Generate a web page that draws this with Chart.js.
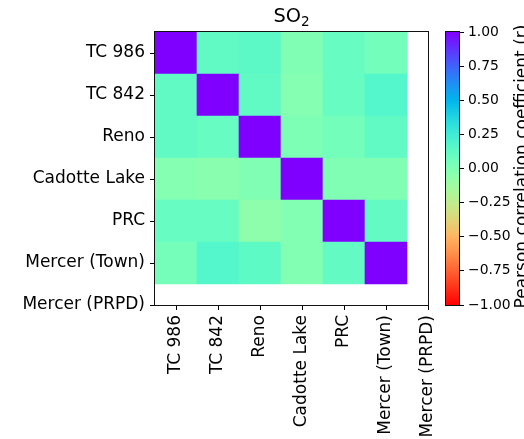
<!DOCTYPE html>
<html>
<head>
<meta charset="utf-8">
<script src="https://cdn.jsdelivr.net/npm/chart.js@4.4.1/dist/chart.umd.min.js"></script>
<style>
  html, body { margin: 0; padding: 0; background: #fff; }
  #wrap { position: relative; width: 524px; height: 439px; overflow: hidden; }
  #heat { position: absolute; left: 0; top: 0; }
  #cbar { position: absolute; left: 430px; top: 0; }
</style>
</head>
<body>
<div id="wrap">
  <canvas id="heat" width="460" height="439"></canvas>
  <canvas id="cbar" width="94" height="439"></canvas>
</div>
<script>
// Estaciones (mismo orden en ambos ejes)
const stations = ['TC 986', 'TC 842', 'Reno', 'Cadotte Lake', 'PRC', 'Mercer (Town)', 'Mercer (PRPD)']

// Coeficientes de correlación por fila (null = sin datos)
const rowTC986   = [1.00, 0.12, 0.14, 0.00, 0.10, 0.05, null]
const rowTC842   = [0.12, 1.00, 0.12, -0.02, 0.10, 0.17, null]
const rowReno    = [0.12, 0.10, 1.00, 0.01, 0.05, 0.12, null]
const rowCadotte = [-0.02, -0.04, 0.00, 1.00, 0.00, 0.00, null]
const rowPRC     = [0.10, 0.10, -0.06, -0.01, 1.00, 0.11, null]
const rowMercerT = [0.04, 0.17, 0.13, -0.01, 0.11, 1.00, null]
const rowMercerP = [null, null, null, null, null, null, null]
const rows = [rowTC986, rowTC842, rowReno, rowCadotte, rowPRC, rowMercerT, rowMercerP]

// Ticks de la barra de color
const cbarTicks = [-1, -0.75, -0.5, -0.25, 0, 0.25, 0.5, 0.75, 1]

const font = 'DejaVu Sans'
Chart.defaults.font.family = font
Chart.defaults.color = '#000'

// Mapa de color "rainbow" invertido (1 = violeta, -1 = rojo)
function rainbowR(v) {
  const t = 1 - (v + 1) / 2
  const clip = x => Math.max(0, Math.min(1, x))
  const r = clip(Math.abs(2 * t - 0.5))
  const g = clip(Math.sin(Math.PI * t))
  const b = clip(Math.cos(Math.PI * t / 2))
  return 'rgb(' + Math.round(r * 255) + ',' + Math.round(g * 255) + ',' + Math.round(b * 255) + ')'
}

// Marco negro alrededor del área del gráfico
const framePlugin = {
  id: 'frame',
  afterDraw(chart) {
    const a = chart.chartArea
    const ctx = chart.ctx
    ctx.save()
    ctx.strokeStyle = '#111'
    ctx.lineWidth = 1
    ctx.strokeRect(a.left - 0.5, a.top - 0.5, a.right - a.left + 1, a.bottom - a.top + 1)
    ctx.restore()
  }
}

// Título "SO2" con el 2 como subíndice, centrado sobre el área del gráfico
const titlePlugin = {
  id: 'heatTitle',
  afterDraw(chart) {
    const a = chart.chartArea
    const ctx = chart.ctx
    ctx.save()
    ctx.fillStyle = '#000'
    ctx.textBaseline = 'alphabetic'
    ctx.textAlign = 'left'
    const big = '19.4px "' + font + '"'
    const small = '13.6px "' + font + '"'
    ctx.font = big
    const w1 = ctx.measureText('SO').width
    ctx.font = small
    const w2 = ctx.measureText('2').width
    const x0 = (a.left + a.right) / 2 - (w1 + w2) / 2
    ctx.font = big
    ctx.fillText('SO', x0, 22)
    ctx.font = small
    ctx.fillText('2', x0 + w1, 26)
    ctx.restore()
  }
}

// Celdas del mapa de calor como barras flotantes
const cells = []
const cellColors = []
rows.forEach((row, r) => {
  row.forEach((v, c) => {
    if (v === null) return
    cells.push({ x: [c - 0.5, c + 0.5], y: r })
    cellColors.push(rainbowR(v))
  })
})

const stationTicks = s => { s.ticks = stations.map((n, i) => ({ value: i })) }
const stationLabel = v => stations[v]

new Chart(document.getElementById('heat'), {
  type: 'bar',
  data: {
    datasets: [{
      data: cells,
      backgroundColor: cellColors,
      borderWidth: 0,
      barPercentage: 1,
      categoryPercentage: 1,
      grouped: false,
    }]
  },
  options: {
    indexAxis: 'y',
    responsive: false,
    animation: false,
    layout: { padding: { left: 10, right: 32, top: 32, bottom: 0 } },
    plugins: {
      legend: { display: false },
      tooltip: { enabled: false },
    },
    scales: {
      x: {
        type: 'linear',
        position: 'bottom',
        offset: false,
        min: -0.5,
        max: 6,
        afterBuildTicks: stationTicks,
        afterFit: s => { s.height = 134 },
        ticks: { callback: stationLabel, autoSkip: false, minRotation: 90, maxRotation: 90, padding: 5, font: { size: 17 } },
        grid: { drawOnChartArea: false, offset: false, tickLength: 5, color: '#000' },
        border: { display: false },
      },
      y: {
        type: 'linear',
        position: 'left',
        offset: false,
        min: -0.5,
        max: 6,
        reverse: true,
        afterBuildTicks: stationTicks,
        afterFit: s => { s.width = 145 },
        ticks: { callback: stationLabel, autoSkip: false, padding: 5, font: { size: 17 } },
        grid: { drawOnChartArea: false, offset: false, tickLength: 5, color: '#000' },
        border: { display: false },
      }
    }
  },
  plugins: [framePlugin, titlePlugin]
})

// Barra de color con degradado
function cbarGradient(context) {
  const area = context.chart.chartArea
  if (!area) return rainbowR(0)
  const g = context.chart.ctx.createLinearGradient(0, area.bottom, 0, area.top)
  for (let i = 0; i <= 64; i++) {
    g.addColorStop(i / 64, rainbowR(-1 + 2 * i / 64))
  }
  return g
}

const cbarLabelPlugin = {
  id: 'cbarLabel',
  afterDraw(chart) {
    const a = chart.chartArea
    const ctx = chart.ctx
    ctx.save()
    ctx.font = '17px "' + font + '"'
    ctx.fillStyle = '#000'
    ctx.textAlign = 'center'
    ctx.textBaseline = 'alphabetic'
    ctx.translate(97, (a.top + a.bottom) / 2 - 2)
    ctx.rotate(-Math.PI / 2)
    ctx.fillText('Pearson correlation coefficient (r)', 0, 0)
    ctx.restore()
  }
}

new Chart(document.getElementById('cbar'), {
  type: 'bar',
  data: {
    labels: ['r'],
    datasets: [{
      data: [[-1, 1]],
      backgroundColor: cbarGradient,
      borderWidth: 0,
      barPercentage: 1,
      categoryPercentage: 1,
    }]
  },
  options: {
    responsive: false,
    animation: false,
    layout: { padding: { left: 16, right: 0, top: 32, bottom: 134 } },
    plugins: { legend: { display: false }, tooltip: { enabled: false } },
    scales: {
      x: { display: false },
      y: {
        position: 'right',
        min: -1,
        max: 1,
        afterBuildTicks: s => { s.ticks = cbarTicks.map(v => ({ value: v })) },
        afterFit: s => { s.width = 65 },
        ticks: {
          padding: 4,
          font: { size: 13.9 },
          callback: v => (v < 0 ? '−' : '') + Math.abs(v).toFixed(2),
        },
        grid: { drawOnChartArea: false, tickLength: 5, color: '#000' },
        border: { display: false },
      }
    }
  },
  plugins: [framePlugin, cbarLabelPlugin]
})
</script>
</body>
</html>
